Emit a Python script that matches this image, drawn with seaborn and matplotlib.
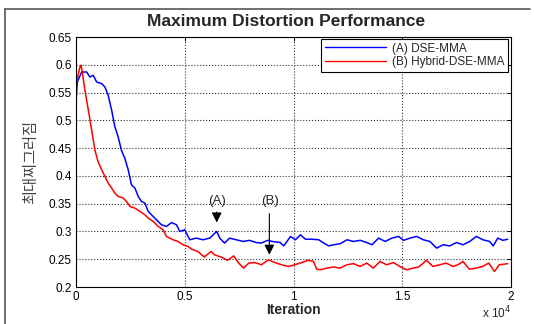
import numpy as np
import pandas as pd
import seaborn as sns
import matplotlib.pyplot as plt
from matplotlib.ticker import FormatStrFormatter
from matplotlib.lines import Line2D

# values (x in units of 1e4 iterations)
dse_x = [0, 0.006, 0.026, 0.049, 0.064, 0.079, 0.095, 0.118, 0.133, 0.148, 0.164, 0.179,
         0.194, 0.209, 0.225, 0.240, 0.255, 0.271, 0.286, 0.301, 0.317, 0.332, 0.347, 0.370,
         0.393, 0.416, 0.439, 0.462, 0.477, 0.50, 0.523, 0.553, 0.584, 0.615, 0.647, 0.661,
         0.683, 0.706, 0.737, 0.768, 0.798, 0.829, 0.851, 0.882, 0.902, 0.939, 0.955, 0.970,
         0.986, 1.009, 1.032, 1.055, 1.085, 1.116, 1.139, 1.162, 1.185, 1.215, 1.246, 1.276,
         1.307, 1.337, 1.361, 1.391, 1.422, 1.452, 1.483, 1.506, 1.536, 1.566, 1.597, 1.627,
         1.658, 1.688, 1.718, 1.749, 1.780, 1.810, 1.841, 1.871, 1.902, 1.918, 1.939, 1.963, 1.985]
dse_y = [0.533, 0.569, 0.587, 0.587, 0.578, 0.581, 0.569, 0.566, 0.560, 0.545, 0.518, 0.488,
         0.470, 0.446, 0.431, 0.411, 0.384, 0.378, 0.363, 0.354, 0.351, 0.336, 0.330, 0.321,
         0.312, 0.309, 0.316, 0.312, 0.300, 0.303, 0.285, 0.288, 0.285, 0.288, 0.300, 0.288,
         0.279, 0.288, 0.285, 0.282, 0.284, 0.280, 0.279, 0.284, 0.282, 0.280, 0.274, 0.282,
         0.291, 0.285, 0.294, 0.286, 0.286, 0.285, 0.279, 0.274, 0.276, 0.278, 0.285, 0.282,
         0.284, 0.280, 0.276, 0.288, 0.282, 0.288, 0.291, 0.284, 0.288, 0.291, 0.285, 0.282,
         0.270, 0.276, 0.274, 0.280, 0.276, 0.282, 0.291, 0.285, 0.282, 0.274, 0.288, 0.284, 0.286]

hyb_x = [0, 0.011, 0.018, 0.023, 0.029, 0.041, 0.057, 0.072, 0.087, 0.102, 0.118, 0.133,
         0.148, 0.164, 0.179, 0.194, 0.217, 0.232, 0.248, 0.271, 0.294, 0.317, 0.332, 0.355,
         0.378, 0.401, 0.416, 0.446, 0.469, 0.492, 0.515, 0.532, 0.560, 0.590, 0.621, 0.636,
         0.667, 0.697, 0.725, 0.748, 0.771, 0.794, 0.822, 0.853, 0.884, 0.915, 0.945, 0.976,
         1.006, 1.037, 1.067, 1.092, 1.107, 1.123, 1.153, 1.184, 1.214, 1.245, 1.276, 1.306,
         1.337, 1.367, 1.398, 1.428, 1.459, 1.489, 1.520, 1.550, 1.575, 1.588, 1.611, 1.641,
         1.672, 1.702, 1.733, 1.756, 1.779, 1.809, 1.840, 1.870, 1.898, 1.924, 1.946, 1.985]
hyb_y = [0.566, 0.584, 0.596, 0.599, 0.587, 0.554, 0.518, 0.482, 0.446, 0.425, 0.411, 0.399,
         0.387, 0.378, 0.369, 0.363, 0.360, 0.354, 0.345, 0.342, 0.336, 0.330, 0.324, 0.318,
         0.309, 0.303, 0.291, 0.285, 0.282, 0.276, 0.273, 0.268, 0.264, 0.254, 0.264, 0.258,
         0.254, 0.248, 0.256, 0.243, 0.234, 0.243, 0.244, 0.240, 0.249, 0.244, 0.240, 0.237,
         0.240, 0.244, 0.248, 0.246, 0.232, 0.231, 0.234, 0.236, 0.234, 0.240, 0.242, 0.237,
         0.243, 0.234, 0.246, 0.240, 0.244, 0.237, 0.231, 0.234, 0.236, 0.240, 0.248, 0.237,
         0.240, 0.243, 0.237, 0.240, 0.246, 0.232, 0.234, 0.237, 0.243, 0.228, 0.240, 0.242]

labels = ["(A) DSE-MMA", "(B) Hybrid-DSE-MMA"]
colors = ["#0000ff", "#ff0000"]

df = pd.concat([
    pd.DataFrame({"iter": dse_x, "dist": dse_y, "algo": labels[0]}),
    pd.DataFrame({"iter": hyb_x, "dist": hyb_y, "algo": labels[1]}),
])

sns.set_style("white")
plt.rcParams['font.family'] = ['Liberation Sans', 'Noto Sans CJK KR', 'DejaVu Sans']

fig = plt.figure(figsize=(5.34, 3.24), dpi=100)
ax = fig.add_axes([76/534, 1 - 287/324, 435/534, 250/324])

sns.lineplot(data=df, x="iter", y="dist", hue="algo", palette=colors,
             linewidth=1.1, sort=False, estimator=None, ax=ax, legend=False)

ax.set_xlim(0, 2)
ax.set_ylim(0.2, 0.65)
ax.set_xticks([0, 0.5, 1, 1.5, 2])
ax.set_yticks(np.arange(0.2, 0.651, 0.05))
ax.xaxis.set_major_formatter(FormatStrFormatter('%g'))
ax.yaxis.set_major_formatter(FormatStrFormatter('%g'))
ax.tick_params(direction='in', top=True, right=True, length=3, width=0.7,
               labelsize=8.5, pad=3, colors='black')
ax.grid(True, linestyle=':', color='#333333', linewidth=0.8)
for s in ax.spines.values():
    s.set_color('black')
    s.set_linewidth(0.8)

ax.set_xlabel("Iteration", fontsize=10, fontweight='bold', labelpad=0)
ax.set_ylabel("최대찌그러짐", fontsize=11, family=['Noto Sans CJK KR', 'DejaVu Sans'],
              color='#444444', labelpad=7)
ax.text(1.0, -0.07, r"x 10$^{4}$", transform=ax.transAxes, ha='right', va='top', fontsize=8.5)
fig.text(286/534, 1 - 22/324, "Maximum Distortion Performance", ha='center', va='center',
         fontsize=12.5, fontweight='bold')

handles = [Line2D([0], [0], color=c, lw=1) for c in colors]
leg = ax.legend(handles, labels, loc='upper right', bbox_to_anchor=(0.993, 0.992),
                fontsize=8.5, handlelength=5.2, borderaxespad=0, fancybox=False,
                framealpha=1, edgecolor='black', borderpad=0.3, labelspacing=0.15,
                handletextpad=0.5)
leg.get_frame().set_linewidth(0.8)

ax.annotate("", xy=(0.647, 0.311), xytext=(0.647, 0.340),
            arrowprops=dict(arrowstyle='-|>', color='black', lw=0.8, mutation_scale=15))
ax.text(0.648, 0.355, "(A)", ha='center', va='center', fontsize=9.5)
ax.annotate("", xy=(0.889, 0.253), xytext=(0.889, 0.337),
            arrowprops=dict(arrowstyle='-|>', color='black', lw=0.8, mutation_scale=15))
ax.text(0.892, 0.355, "(B)", ha='center', va='center', fontsize=9.5)

# screenshot frame at top and left
fig.add_artist(Line2D([5/534, 530/534], [1 - 9/324, 1 - 9/324], color='#555555', lw=1.2))
fig.add_artist(Line2D([5/534, 5/534], [0, 1 - 9/324], color='#555555', lw=1.2))

fig.savefig("out.png", dpi=100)
